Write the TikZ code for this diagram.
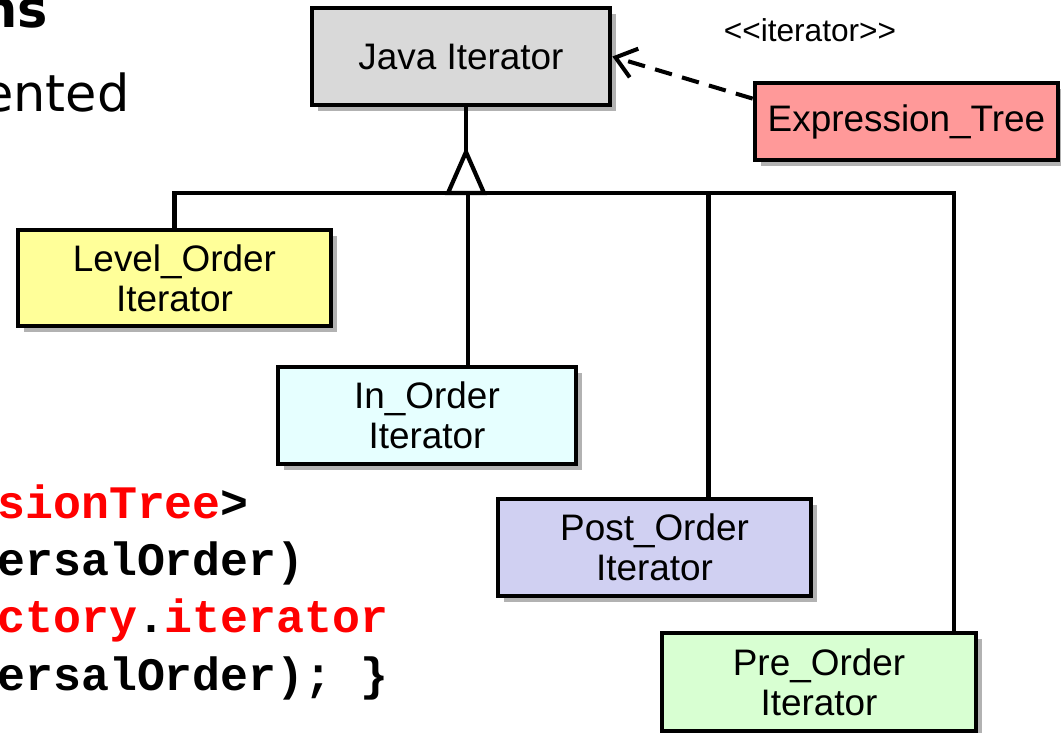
\documentclass[tikz,border=0pt]{standalone}
\usepackage{fontspec}
\setmainfont{Liberation Sans}
\newfontfamily\codefont{Liberation Mono}
\newfontfamily\slidefont{DejaVu Sans}
\usetikzlibrary{shadows,arrows.meta,calc}
\definecolor{javafill}{HTML}{D9D9D9}
\definecolor{exprfill}{HTML}{FF9999}
\definecolor{levelfill}{HTML}{FFFF99}
\definecolor{infill}{HTML}{E6FFFF}
\definecolor{postfill}{HTML}{D0D0F2}
\definecolor{prefill}{HTML}{D8FFD2}
\definecolor{codered}{HTML}{FF0000}
\tikzset{
  classbox/.style={draw=black, line width=2.7pt, rectangle, align=center,
    font=\fontsize{21}{22.7}\selectfont, inner sep=0pt,
    drop shadow={shadow xshift=3.5pt, shadow yshift=-3.5pt, opacity=0.5, fill=black!60}},
  link/.style={line width=2.4pt},
  dep/.style={line width=2.3pt, dash pattern=on 10pt off 6pt,
    -{Straight Barb[length=11pt, width=17pt, line width=2.3pt]}},
  codeline/.style={anchor=base west, inner sep=0pt,
    font=\codefont\bfseries\fontsize{26.5}{26.5}\selectfont},
}
\begin{document}
\begin{tikzpicture}[x=0.02cm, y=-0.02cm]
  \useasboundingbox (0,0) rectangle (1061,733);
  \clip (0,0) rectangle (1061,733);

  % slide text running in from the left
  \node[anchor=base east, inner sep=0pt, font=\slidefont\bfseries\fontsize{29}{29}\selectfont] (title) at (48,28) {ns};
  \node[anchor=base east, inner sep=0pt, font=\slidefont\fontsize{29}{29}\selectfont] (bullet) at (130,112) {ented};

  % code fragment
  \node[codeline] (c1) at (-3,518) {\textcolor{codered}{sionTree}>};
  \node[codeline] (c2) at (-3,575) {ersalOrder)};
  \node[codeline] (c3) at (-3,632) {\textcolor{codered}{ctory}.\textcolor{codered}{iterator}};
  \node[codeline] (c4) at (-3,690) {ersalOrder); \}};

  % classes
  \node[classbox, fill=javafill, minimum width=5.96cm, minimum height=1.94cm] (java) at (461,56.5) {Java Iterator};
  \node[classbox, fill=exprfill, minimum width=6.06cm, minimum height=1.54cm] (expr) at (906.5,121.5) {Expression\_Tree};
  \node[classbox, fill=levelfill, minimum width=6.26cm, minimum height=1.92cm] (level) at (174.5,278) {Level\_Order\\Iterator};
  \node[classbox, fill=infill, minimum width=5.96cm, minimum height=1.94cm] (inord) at (427,415.5) {In\_Order\\Iterator};
  \node[classbox, fill=postfill, minimum width=6.26cm, minimum height=1.94cm] (post) at (654.5,547.5) {Post\_Order\\Iterator};
  \node[classbox, fill=prefill, minimum width=6.28cm, minimum height=1.96cm] (pre) at (819,682) {Pre\_Order\\Iterator};

  % stereotype label (kerns keep << and >> as plain angle brackets)
  \node[font=\fontsize{18}{18}\selectfont, inner sep=0pt] (stereo) at (810,30) {<\kern0pt<iterator>\kern0pt>};

  % generalization tree
  \coordinate (apex) at (466,152);
  \coordinate (bar) at (466,193);
  \coordinate (inTop) at ($(inord.north west)!0.635!(inord.north east)$);
  \coordinate (postTop) at ($(post.north west)!0.67!(post.north east)$);
  \coordinate (preTop) at ($(pre.north west)!0.924!(pre.north east)$);
  \draw[link] (java.south -| apex) -- (apex);
  \draw[link, line join=miter] (apex) -- ++(-18,41) -- ++(36,0) -- cycle;
  \draw[link] (level.north) -- (level.north |- bar) -- (preTop |- bar) -- (preTop);
  \draw[link] (inTop |- bar) -- (inTop);
  \draw[link] (postTop |- bar) -- (postTop);

  % realization of the iterator interface
  \draw[dep] ($(expr.north west)!0.22!(expr.south west)$) -- (java.east);
\end{tikzpicture}
\end{document}
